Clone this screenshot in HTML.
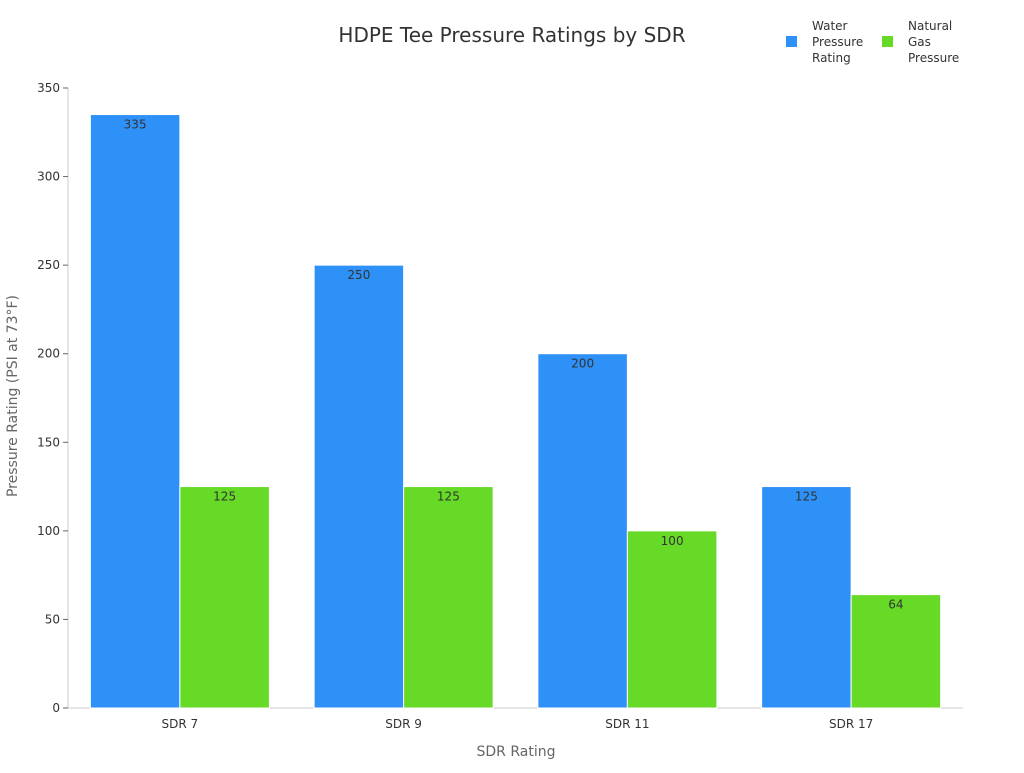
<!DOCTYPE html>
<html><head><meta charset="utf-8"><style>
body{margin:0;background:#fff;font-family:"Liberation Sans","DejaVu Sans",sans-serif}
svg text{font-family:"DejaVu Sans","Liberation Sans",sans-serif}
</style></head><body>
<svg id="c" width="1024" height="768">
<text x="512" y="42" text-anchor="middle" font-size="20" fill="#333">HDPE Tee Pressure Ratings by SDR</text>
<g>
<rect x="786" y="36" width="11" height="11" fill="#2e91f8"/>
<text font-size="12" fill="#333"><tspan x="812" y="30">Water</tspan><tspan x="812" y="46">Pressure</tspan><tspan x="812" y="62">Rating</tspan></text>
<rect x="882" y="36" width="11" height="11" fill="#66da26"/>
<text font-size="12" fill="#333"><tspan x="908" y="30">Natural</tspan><tspan x="908" y="46">Gas</tspan><tspan x="908" y="62">Pressure</tspan></text>
</g>
<text transform="translate(17,396) rotate(-90)" text-anchor="middle" font-size="14" fill="#666">Pressure Rating (PSI at 73°F)</text>
<text x="516" y="756" text-anchor="middle" font-size="14" fill="#666">SDR Rating</text>
<g id="plot"></g>
</svg>
<script>
const categories=["SDR 7","SDR 9","SDR 11","SDR 17"];
const waterValues=[335,250,200,125];
const gasValues=[125,125,100,64];
const yTicks=[0,50,100,150,200,250,300,350];
const X0=68,X1=963,Y0=708,Y1=88,YMAX=350;
const ns="http://www.w3.org/2000/svg";
const g=document.getElementById("plot");
function y(v){return Y0-(v/YMAX)*(Y0-Y1);}
const band=(X1-X0)/categories.length, pad=band*0.1, bw=(band-2*pad)/2;
function bx(i){return X0+i*band+pad;}
function mk(t,a){const e=document.createElementNS(ns,t);for(const k in a)e.setAttribute(k,a[k]);g.appendChild(e);return e;}
let ax=mk("line",{x1:X0,y1:Y1,x2:X0,y2:Y0,stroke:"#ccc"});


let bxl=mk("line",{x1:X0,y1:Y0,x2:X1,y2:Y0,stroke:"#ccc"});


yTicks.forEach(v=>{
 let t=mk("line",{x1:X0-5,x2:X0,y1:y(v),y2:y(v),stroke:"#666"});
 
 
 let l=mk("text",{x:X0-8,y:y(v)+4,"text-anchor":"end","font-size":12,fill:"#333"});
 l.textContent=v;
 
 
});
categories.forEach((c,i)=>{
 let l=mk("text",{x:X0+i*band+band/2,y:Y0+20,"text-anchor":"middle","font-size":12,fill:"#333"});
 l.textContent=c;
 
 
 [[waterValues,"#2e91f8",0,"bar-water"],[gasValues,"#66da26",1,"bar-gas"]].forEach(([arr,col,k,nm])=>{
  const v=arr[i],x=bx(i)+k*bw;
  let r=mk("rect",{x:x,y:y(v),width:bw,height:Y0-y(v),fill:col,stroke:"#fff","stroke-width":1});
  
  
  let t=mk("text",{x:x+bw/2,y:y(v)+14,"text-anchor":"middle","font-size":12,fill:"#333"});
  t.textContent=v;
  
  
 });
});
</script>
</body></html>
